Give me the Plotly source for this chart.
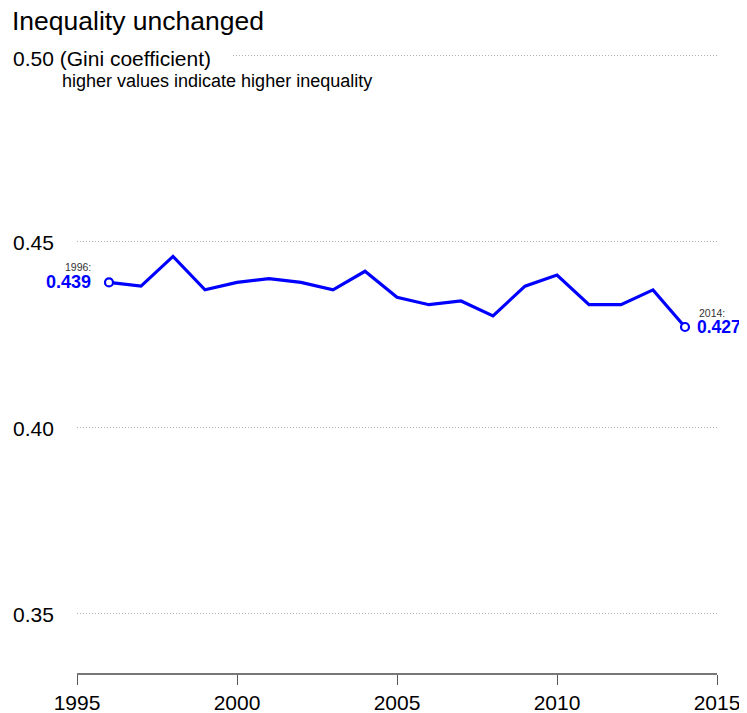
import plotly.graph_objects as go

years = list(range(1996, 2015))
gini = [0.439, 0.438, 0.446, 0.437, 0.439, 0.440, 0.439, 0.437, 0.442, 0.435,
        0.433, 0.434, 0.430, 0.438, 0.441, 0.433, 0.433, 0.437, 0.427]

y_ticks = [0.35, 0.40, 0.45, 0.50]
x_ticks = [1995, 2000, 2005, 2010, 2015]

blue = "#0000ff"
font = "Liberation Sans, Arial, sans-serif"

fig = go.Figure()

fig.add_trace(go.Scatter(
    x=years, y=gini, mode="lines",
    line=dict(color=blue, width=3.2),
    hoverinfo="skip", showlegend=False,
))

# open circles at the two ends
fig.add_trace(go.Scatter(
    x=[years[0], years[-1]], y=[gini[0], gini[-1]], mode="markers",
    marker=dict(color="white", size=8, line=dict(color=blue, width=2.2)),
    hoverinfo="skip", showlegend=False,
))

# y labels sit at the left edge of the page
lab_x = -0.1033
for v in y_ticks[:-1]:
    fig.add_annotation(x=lab_x, y=v, xref="paper", yref="y", xanchor="left",
                       yanchor="middle", yshift=-1, text=f"{v:.2f}", showarrow=False,
                       font=dict(size=21, color="black"))
# top label also masks the start of its grid line
fig.add_annotation(x=lab_x, y=y_ticks[-1], xref="paper", yref="y", xanchor="left",
                   yanchor="middle", yshift=-3, showarrow=False, bgcolor="white",
                   width=217, align="left",
                   text=f"{y_ticks[-1]:.2f} (Gini coefficient)",
                   font=dict(size=21, color="black"))
fig.add_annotation(x=-0.0266, y=y_ticks[-1], xref="paper", yref="y", xanchor="left",
                   yanchor="middle", yshift=-25, showarrow=False,
                   text="higher values indicate higher inequality",
                   font=dict(size=18, color="black"))

# end labels
fig.add_annotation(x=years[0], y=gini[0], text=f"{years[0]}:", showarrow=False,
                   xanchor="right", yanchor="middle", xshift=-16, yshift=15,
                   font=dict(size=10.5, color="#333333"))
fig.add_annotation(x=years[0], y=gini[0], text=f"<b>{gini[0]:.3f}</b>", showarrow=False,
                   xanchor="right", yanchor="middle", xshift=-16, yshift=0,
                   font=dict(size=18, color=blue))
fig.add_annotation(x=years[-1], y=gini[-1], text=f"{years[-1]}:", showarrow=False,
                   xanchor="left", yanchor="middle", xshift=12, yshift=14,
                   font=dict(size=10.5, color="#333333"))
fig.add_annotation(x=years[-1], y=gini[-1], text=f"<b>{gini[-1]:.3f}</b>", showarrow=False,
                   xanchor="left", yanchor="middle", xshift=10, yshift=0,
                   font=dict(size=17.5, color=blue))

# page body adds 8px around the figure, so everything is shifted by 8px
fig.update_layout(
    width=747, height=705,
    margin=dict(l=69, r=38, t=44, b=40),
    paper_bgcolor="white", plot_bgcolor="white",
    font=dict(family=font, color="black"),
    title=dict(text="Inequality unchanged", x=4 / 747, xref="container", xanchor="left",
               y=1 - 12.5 / 705, yref="container", yanchor="middle",
               font=dict(size=26.5, color="black")),
)

fig.update_xaxes(
    range=[1995, 2015], tickvals=x_ticks, showgrid=False, zeroline=False,
    automargin=False,
    showline=True, linecolor="#777777", linewidth=1.5,
    ticks="outside", ticklen=10, tickwidth=1.3, tickcolor="#555555",
    tickfont=dict(size=21, color="black"),
)
fig.update_yaxes(
    range=[0.3339, 0.501], tickvals=y_ticks, showticklabels=False, zeroline=False,
    automargin=False,
    showgrid=True, gridcolor="#b0b0b0", gridwidth=1, griddash="1px,2px",
)

fig.write_html("out.html")
